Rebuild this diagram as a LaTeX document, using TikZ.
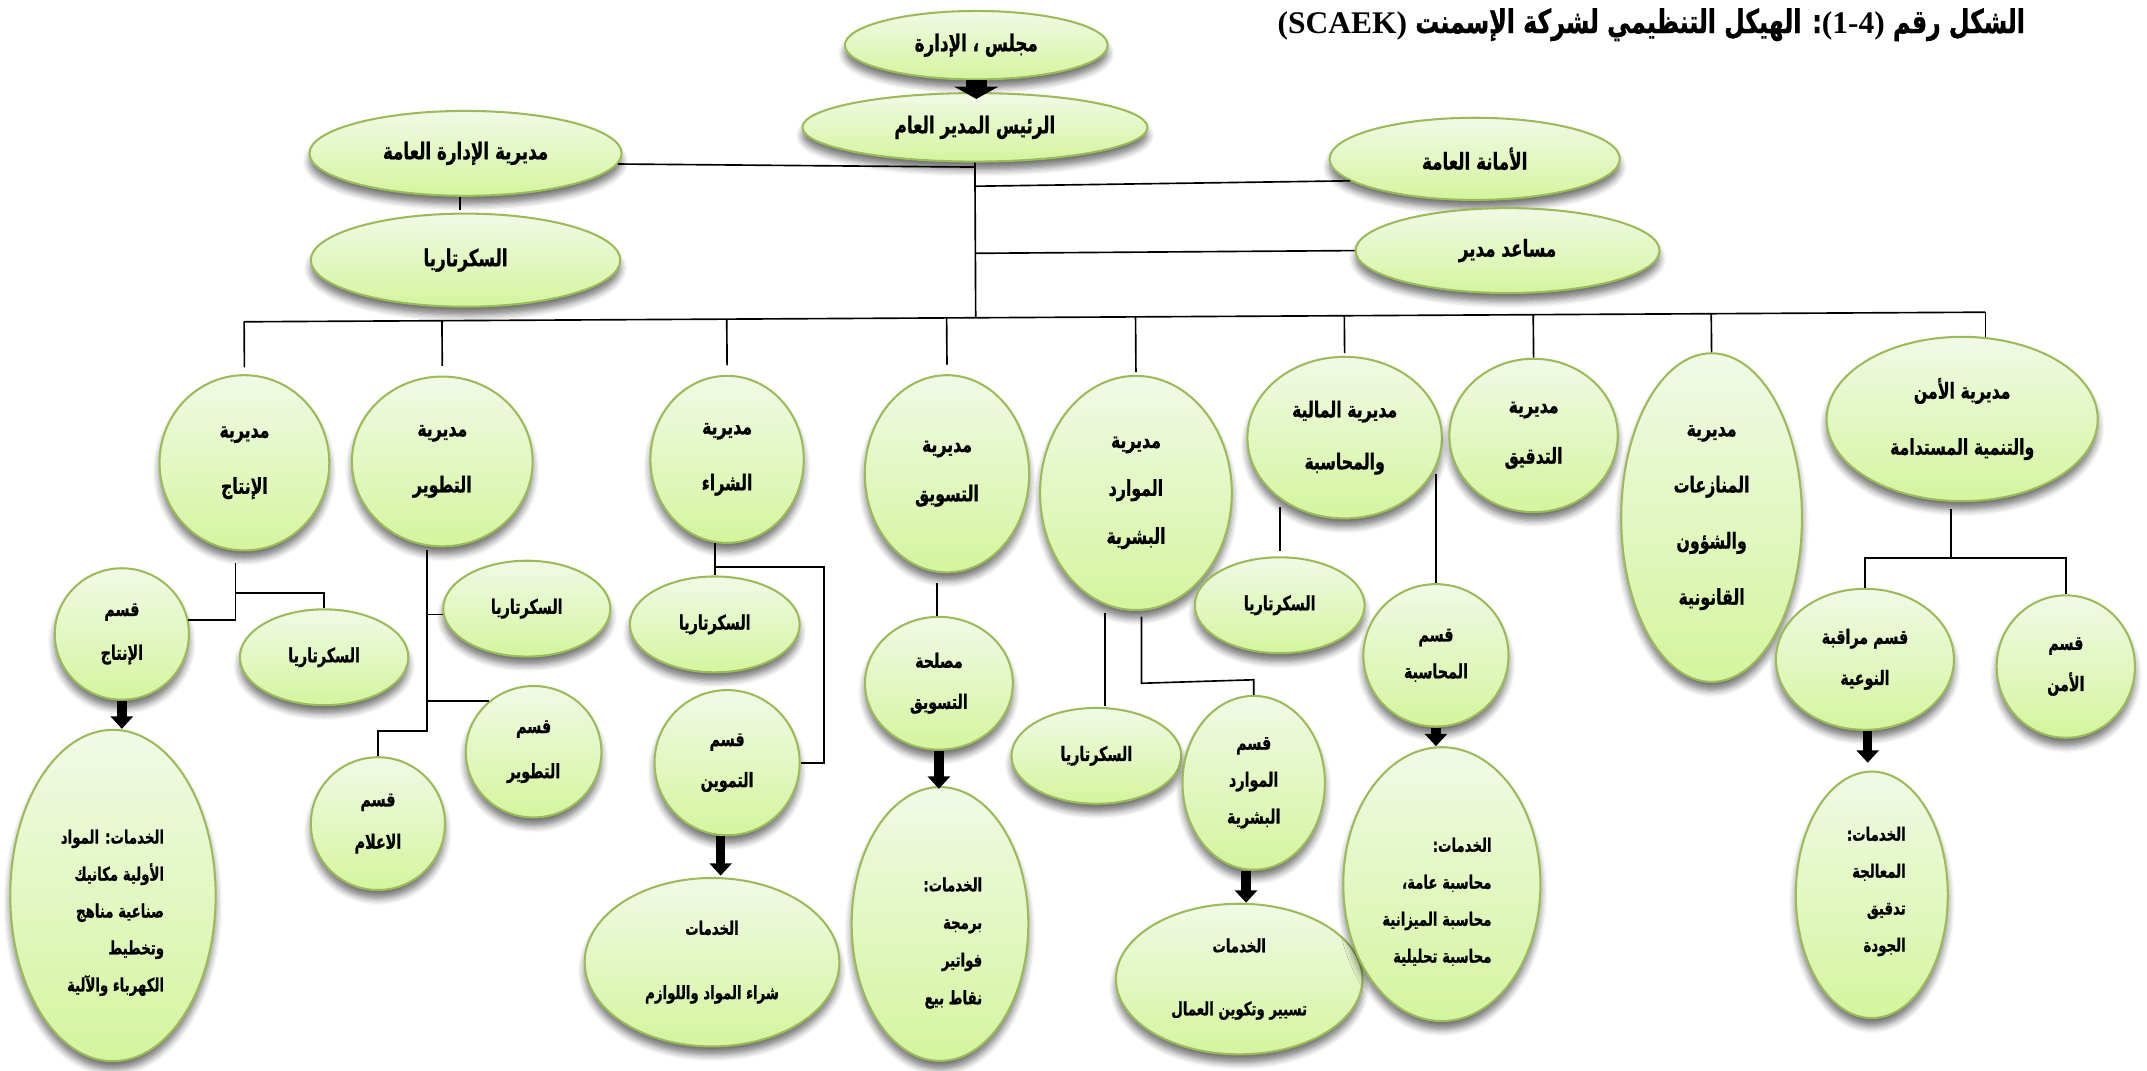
\documentclass[tikz,border=0pt]{standalone}
\usepackage{fontspec}
\setmainfont{DejaVu Sans}
\newfontfamily\arabicfont[Script=Arabic,FakeStretch=0.72,FakeBold=0.8]{DejaVu Sans}
\newfontfamily\titlelatin{Liberation Serif}
\TeXXeTstate=1
\usetikzlibrary{shapes.geometric,shadows.blur,arrows.meta,calc}
\definecolor{ovalline}{HTML}{9BBB59}
\definecolor{ovaltop}{HTML}{F1F9E6}
\definecolor{ovalbot}{HTML}{D4F59E}
\newcommand\arx[1]{\beginR #1\endR}

\tikzset{
  oval/.style={ellipse, draw=ovalline, line width=1.5pt, top color=ovaltop,
    bottom color=ovalbot, inner sep=-8pt, align=center,
    blur shadow={shadow xshift=0pt, shadow yshift=-6pt, shadow blur steps=6,
      shadow blur radius=5pt, shadow opacity=55}},
  wh/.style 2 args={minimum width=#1pt, minimum height=#2pt},
  big/.style={font=\arabicfont\bfseries\fontsize{17}{20}\selectfont},
  dir/.style={font=\arabicfont\bfseries\fontsize{16}{#1}\selectfont},
  dir/.default=41,
  sub/.style={font=\arabicfont\bfseries\fontsize{14.5}{#1}\selectfont},
  sub/.default=30,
  srv/.style={font=\arabicfont\bfseries\fontsize{13.5}{#1}\selectfont, align=right, inner sep=0pt},
  srv/.default=27,
  link/.style={line width=1.2pt},
  blk/.style={line width=7pt, -{Triangle[width=16pt,length=9pt]}},
  bigblk/.style={line width=15pt, -{Triangle[width=32pt,length=9pt]}},
}

\begin{document}
\begin{tikzpicture}[x=1pt,y=-1pt]
\useasboundingbox (0,0) rectangle (1568,782);

% title
\node[anchor=east, inner sep=0pt] (title) at (1479,18)
  {\arabicfont\bfseries\fontsize{24}{26}\selectfont\beginR الشكل رقم {\titlelatin\bfseries\fontsize{23}{24}\selectfont\beginL(1-4)\endL}: الهيكل التنظيمي لشركة الإسمنت {\titlelatin\bfseries\fontsize{23}{24}\selectfont\beginL(SCAEK)\endL}\endR};

% top management
\node[oval,big,wh={192}{50}] (board) at (713,33) {\arx{مجلس ، الإدارة}};
\node[oval,big,wh={252}{50}] (pres) at (712,93) {\arx{الرئيس المدير العام}};
\node[oval,big,wh={228}{62}] (gen) at (340,112) {\arx{مديرية الإدارة العامة}};
\node[oval,big,wh={226}{68}] (gensec) at (340,190) {\arx{السكرتاريا}};
\node[oval,big,wh={212}{60}] (amana) at (1077,116) {\arx{الأمانة العامة}};
\node[oval,big,wh={222}{62}] (asst) at (1101,183) {\arx{مساعد مدير}};

% directorates
\node[oval,dir,wh={124}{128}] (prod) at (178.5,338) {\arx{مديرية}\\\arx{الإنتاج}};
\node[oval,dir,wh={132}{124}] (dev) at (323,337) {\arx{مديرية}\\\arx{التطوير}};
\node[oval,dir,wh={112}{122}] (purch) at (531,335.5) {\arx{مديرية}\\\arx{الشراء}};
\node[oval,dir=36,wh={120}{144}] (mkt) at (691.6,346) {\arx{مديرية}\\\arx{التسويق}};
\node[oval,dir=35,wh={140}{171}] (hr) at (829.6,360) {\arx{مديرية}\\\arx{الموارد}\\\arx{البشرية}};
\node[oval,dir=38,wh={142}{118}] (fin) at (982,319.6) {\arx{مديرية المالية}\\\arx{والمحاسبة}};
\node[oval,dir=37,wh={123}{112}] (audit) at (1120,318) {\arx{مديرية}\\\arx{التدقيق}};
\node[oval,dir,wh={132}{240}] (legal) at (1250,378) {\arx{مديرية}\\\arx{المنازعات}\\\arx{والشؤون}\\\arx{القانونية}};
\node[oval,dir,wh={198}{120}] (sec) at (1433,306) {\arx{مديرية الأمن}\\\arx{والتنمية المستدامة}};

% production
\node[oval,sub=32,wh={98}{96}] (prodsec) at (89,463) {\arx{قسم}\\\arx{الإنتاج}};
\node[oval,sub,wh={123}{70}] (prodsecr) at (236.7,480) {\arx{السكرتاريا}};
\node[oval,wh={150}{242}] (prodsrv) at (82.5,654) {};
\node[srv,anchor=east] (prodsrvtxt) at (120,666.6)
  {\arx{الخدمات: المواد}\\\arx{الأولية مكانيك}\\\arx{صناعية مناهج}\\\arx{وتخطيط}\\\arx{الكهرباء والآلية}};

% development
\node[oval,sub,wh={122}{70}] (devsecr) at (384.7,444.5) {\arx{السكرتاريا}};
\node[oval,sub=33,wh={99}{96}] (devsec) at (389.7,549) {\arx{قسم}\\\arx{التطوير}};
\node[oval,sub=31,wh={98}{97}] (media) at (276,601.5) {\arx{قسم}\\\arx{الاعلام}};

% purchasing
\node[oval,sub,wh={124}{70}] (pursecr) at (522,456) {\arx{السكرتاريا}};
\node[oval,sub,wh={106}{106}] (supply) at (531,557) {\arx{قسم}\\\arx{التموين}};
\node[oval,srv=47,align=center,inner sep=-8pt,wh={186}{123}] (pursrv) at (520,702.7)
  {\arx{الخدمات}\\\arx{شراء المواد واللوازم}};

% marketing
\node[oval,sub,wh={108}{97}] (mktunit) at (685.7,499) {\arx{مصلحة}\\\arx{التسويق}};
\node[oval,wh={129}{200}] (mktsrv) at (686.5,674.8) {};
\node[srv=27.5,anchor=east] (mktsrvtxt) at (717.5,688.7)
  {\arx{الخدمات:}\\\arx{برمجة}\\\arx{فواتير}\\\arx{نقاط بيع}};

% human resources
\node[oval,sub,wh={124}{70}] (hrsecr) at (800.7,552) {\arx{السكرتاريا}};
\node[oval,sub=27,wh={104}{127}] (hrsec) at (915.6,571.7) {\arx{قسم}\\\arx{الموارد}\\\arx{البشرية}};
\node[oval,srv=46,align=center,inner sep=-8pt,wh={180}{110}] (hrsrv) at (905,715)
  {\arx{الخدمات}\\\arx{تسيير وتكوين العمال}};

% finance
\node[oval,sub,wh={124}{70}] (finsecr) at (934.6,442) {\arx{السكرتاريا}};
\node[oval,sub=27,wh={106}{104}] (acc) at (1048.7,478.6) {\arx{قسم}\\\arx{المحاسبة}};
\node[oval,wh={144}{200}] (accsrv) at (1053,645.7) {};
\node[srv,anchor=east] (accsrvtxt) at (1089.5,658.6)
  {\arx{الخدمات:}\\\arx{محاسبة عامة،}\\\arx{محاسبة الميزانية}\\\arx{محاسبة تحليلية}};

% security
\node[oval,sub,wh={130}{103}] (quality) at (1362,481.5) {\arx{قسم مراقبة}\\\arx{النوعية}};
\node[oval,sub,wh={101}{104}] (secdept) at (1508.7,486.8) {\arx{قسم}\\\arx{الأمن}};
\node[oval,wh={111}{180}] (qsrv) at (1367,653.5) {};
\node[srv,anchor=east] (qsrvtxt) at (1392,651)
  {\arx{الخدمات:}\\\arx{المعالجة}\\\arx{تدقيق}\\\arx{الجودة}};

% ---- connectors ----
\coordinate (busL) at (178,235);
\coordinate (busR) at (1450,228);
\coordinate (trunk) at ($(busL)!(pres.south)!(busR)$);
\draw[link] (busL) -- (busR);
\draw[link] (pres.south) -- (trunk);

\coordinate (tG) at (712,122);
\coordinate (tA) at (712,136);
\coordinate (tS) at (712,185);
\draw[link] (gen.356) -- (tG);
\draw[link] (tA) -- (amana.190);
\draw[link] (tS) -- (asst.west);
\draw[link] ([xshift=-4pt]gen.south) -- ([xshift=-4pt,yshift=2pt]gensec.north);

\foreach \n/\g in {prod/5, dev/7, purch/7, mkt/7, hr/2, fin/2, audit/0, legal/0}
  \draw[link] ($(busL)!(\n.north)!(busR)$) -- ($(\n.north)+(0,-\g)$);
\draw[link] (busR) -- ($(sec.north)+(17,1)$);

% production links
\coordinate (pj) at (172,411);
\coordinate (pk) at (172,433);
\draw[link] (pj) |- (prodsec.12);
\draw[link] (pk) -| (prodsecr.north);

% development links
\coordinate (dv) at (311.8,402);
\coordinate (dvb) at (311.8,534);
\draw[link] (dv) -- (dvb) -| (media.north);
\draw[link] (dv |- devsecr.184) -- (devsecr.184);
\draw[link] (dv |- devsec.131) -- (devsec.131);

% purchasing links
\coordinate (pu) at (522,396.5);
\coordinate (pr) at (601.8,414.3);
\draw[link] (pu) -- (pursecr.north);
\draw[link] (pu |- pr) -- (pr) |- (supply.east);

% marketing link
\coordinate (mk) at (684.3,425.5);
\draw[link] (mk) -- (mk |- mktunit.north);

% human resources links
\coordinate (ha) at (807,447.4);
\coordinate (hb) at (833.6,450.4);
\coordinate (hc) at (833.6,499);
\draw[link] (ha) -- ($(ha |- hrsecr.north)+(0,-1)$);
\draw[link] (hb) -- (hc) -- ($(hrsec.north)+(0,-11)$) -- (hrsec.north);

% finance links
\coordinate (fa) at (934.6,370);
\coordinate (fb) at (1048.7,346);
\draw[link] (fa) -- ($(fa |- finsecr.north)+(0,-4)$);
\draw[link] (fb) -- (fb |- acc.north);

% security links
\coordinate (sj) at (1425,372);
\coordinate (sb) at (1425,407.6);
\draw[link] (sj) -- (sb);
\draw[link] (quality.north) |- (sb) -| (secdept.north);

% block arrows
\draw[bigblk] (board.south) -- ($(board.south |- pres.north)+(0,5)$);
\draw[blk] (prodsec.south) -- (prodsec.south |- prodsrv.north);
\draw[blk] ([xshift=-4.7pt]supply.south) -- ($([xshift=-4.7pt]supply.south |- pursrv.north)+(0,-1)$);
\draw[blk] (mktunit.south) -- ($(mktunit.south |- mktsrv.north)+(0,2)$);
\draw[blk] ([xshift=-5.6pt]hrsec.south) -- ([xshift=-5.6pt]hrsec.south |- hrsrv.north);
\draw[blk] (acc.south) -- (acc.south |- accsrv.north);
\coordinate (qa) at (1364,557);
\draw[blk] (quality.south -| qa) -- (qa);
\end{tikzpicture}
\end{document}
